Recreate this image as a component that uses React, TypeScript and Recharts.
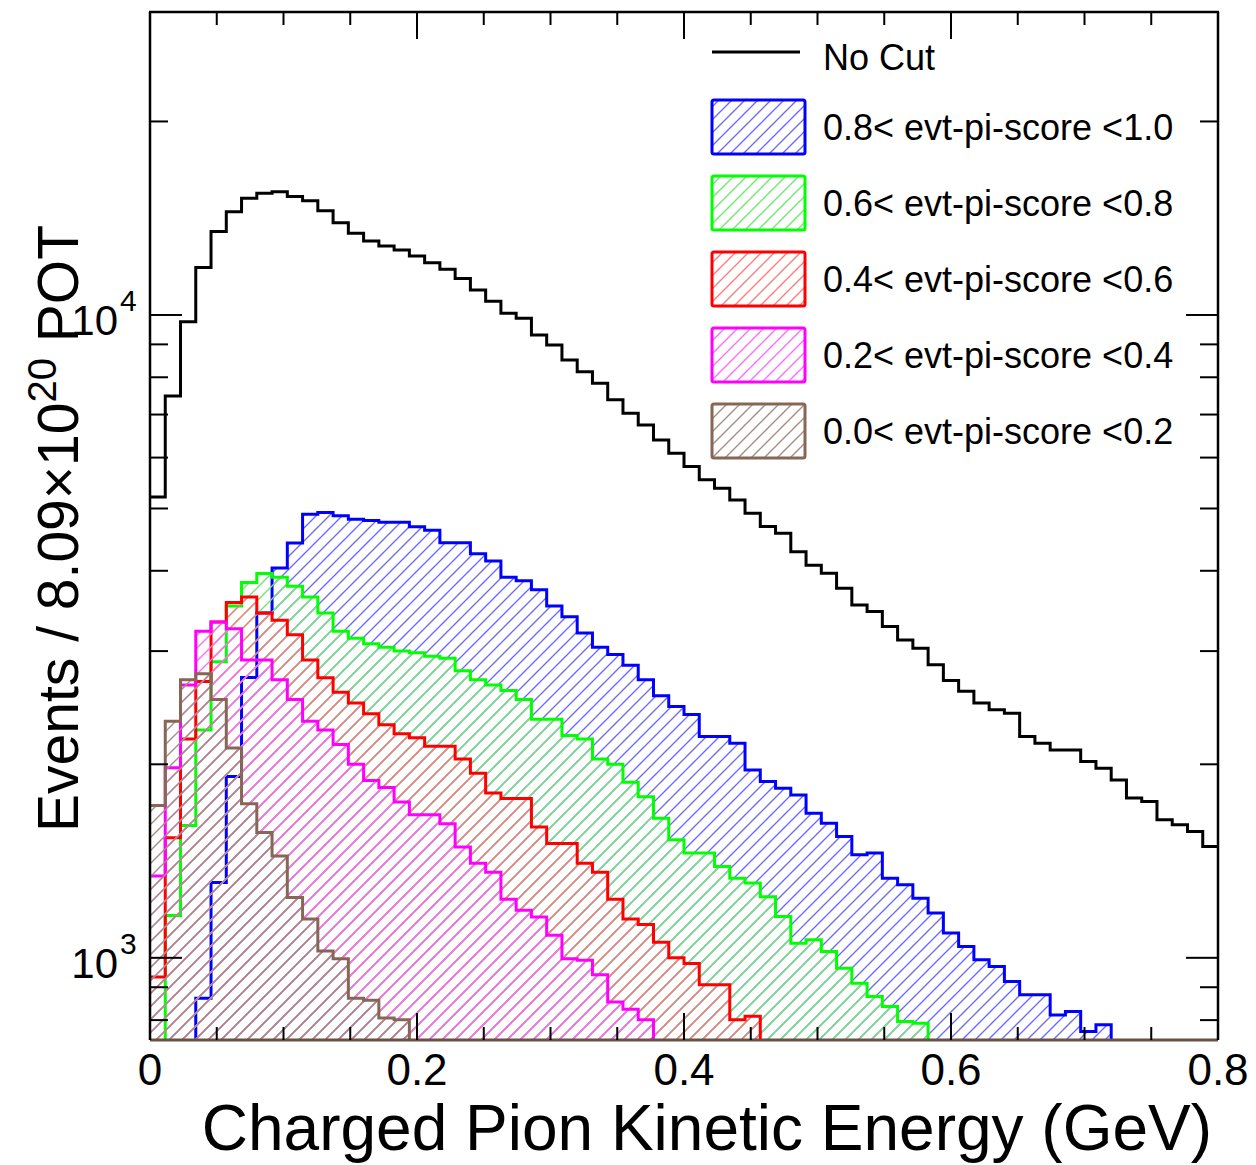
import React from "react";
import { ComposedChart, Line, Area, XAxis, YAxis } from "recharts";

// 70 bins between 0 and 0.8 GeV
const BIN_COUNT = 70;
const X_MAX = 0.8;
const Y_MIN = 745;
const Y_MAX = 29600;

const NO_CUT = [
  5210, 7480, 9760, 11850, 13480, 14470, 15190, 15470, 15550, 15280,
  15060, 14530, 13920, 13400, 13030, 12800, 12620, 12350, 12060, 11780,
  11400, 10940, 10500, 10060, 9880, 9310, 8980, 8510, 8160, 7830,
  7380, 7030, 6745, 6390, 6095, 5810, 5540, 5378, 5156, 4916,
  4687, 4575, 4283, 4080, 3966, 3758, 3540, 3456, 3276, 3123,
  3032, 2856, 2700, 2597, 2490, 2431, 2402, 2209, 2157, 2106,
  2106, 2020, 1972, 1891, 1772, 1750, 1639, 1610, 1572, 1490,
];

// bins below the axis minimum are written as 100
const SCORE_08_10 = [
  100, 100, 100, 865, 1310, 1915, 2730, 3440, 4040, 4420,
  4900, 4930, 4870, 4810, 4790, 4760, 4760, 4685, 4624, 4421,
  4421, 4253, 4144, 3910, 3860, 3737, 3527, 3394, 3202, 3041,
  2964, 2851, 2708, 2556, 2459, 2390, 2209, 2209, 2157, 1960,
  1880, 1835, 1792, 1679, 1620, 1544, 1446, 1455, 1330, 1299,
  1238, 1174, 1093, 1041, 993, 969, 919, 876, 876, 815,
  825, 768, 787, 100, 100, 100, 100, 100, 100, 100,
];

const SCORE_06_08 = [
  100, 1164, 1606, 2261, 2889, 3527, 3835, 3961, 3910, 3786,
  3643, 3438, 3222, 3141, 3080, 3041, 3002, 2983, 2944, 2925,
  2796, 2708, 2656, 2605, 2522, 2350, 2350, 2218, 2189, 2039,
  2000, 1875, 1781, 1649, 1526, 1455, 1455, 1387, 1330, 1307,
  1245, 1160, 1054, 1067, 1023, 963, 913, 871, 840, 796,
  791, 100, 100, 100, 100, 100, 100, 100, 100, 100,
  100, 100, 100, 100, 100, 100, 100, 100, 100, 100,
];

const SCORE_04_06 = [
  934, 1537, 2189, 2690, 3329, 3572, 3643, 3438, 3350, 3182,
  2907, 2726, 2588, 2490, 2396, 2304, 2232, 2200, 2134, 2134,
  2039, 1937, 1804, 1770, 1770, 1597, 1506, 1506, 1403, 1359,
  1233, 1149, 1127, 1057, 1000, 980, 908, 908, 801, 811,
  100, 100, 100, 100, 100, 100, 100, 100, 100, 100,
  100, 100, 100, 100, 100, 100, 100, 100, 100, 100,
  100, 100, 100, 100, 100, 100, 100, 100, 100, 100,
];

const SCORE_02_04 = [
  1341, 1975, 2656, 3222, 3329, 3250, 2907, 2907, 2708, 2522,
  2334, 2261, 2147, 2000, 1888, 1840, 1747, 1670, 1670, 1617,
  1487, 1403, 1359, 1233, 1186, 1157, 1084, 997, 991, 941,
  854, 832, 801, 100, 100, 100, 100, 100, 100, 100,
  100, 100, 100, 100, 100, 100, 100, 100, 100, 100,
  100, 100, 100, 100, 100, 100, 100, 100, 100, 100,
  100, 100, 100, 100, 100, 100, 100, 100, 100, 100,
];

const SCORE_00_02 = [
  1725, 2334, 2708, 2765, 2522, 2121, 1736, 1566, 1440, 1241,
  1149, 1025, 997, 865, 859, 806, 801, 100, 100, 100,
  100, 100, 100, 100, 100, 100, 100, 100, 100, 100,
  100, 100, 100, 100, 100, 100, 100, 100, 100, 100,
  100, 100, 100, 100, 100, 100, 100, 100, 100, 100,
  100, 100, 100, 100, 100, 100, 100, 100, 100, 100,
  100, 100, 100, 100, 100, 100, 100, 100, 100, 100,
];

const X_TICKS = [0, 0.05, 0.1, 0.15, 0.2, 0.25, 0.3, 0.35, 0.4, 0.45, 0.5, 0.55, 0.6, 0.65, 0.7, 0.75, 0.8];
const Y_TICKS = [800, 900, 1000, 2000, 3000, 4000, 5000, 6000, 7000, 8000, 9000, 10000, 20000];
const Y_LABELS = [1000, 10000];

const SERIES = [
  { key: "s08", name: "0.8< evt-pi-score <1.0", color: "#0000ff", hatch: "#6b6bff", values: SCORE_08_10 },
  { key: "s06", name: "0.6< evt-pi-score <0.8", color: "#00ff00", hatch: "#6fe86f", values: SCORE_06_08 },
  { key: "s04", name: "0.4< evt-pi-score <0.6", color: "#ff0000", hatch: "#ff7b7b", values: SCORE_04_06 },
  { key: "s02", name: "0.2< evt-pi-score <0.4", color: "#ff00ff", hatch: "#ff6bff", values: SCORE_02_04 },
  { key: "s00", name: "0.0< evt-pi-score <0.2", color: "#876656", hatch: "#a48e84", values: SCORE_00_02 },
];

const W = 1256;
const H = 1165;
const PLOT_LEFT = 150;
const PLOT_RIGHT = 1218;
const PLOT_TOP = 12;
const PLOT_BOTTOM = 1040;
const FONT = "'Liberation Sans', Arial, Helvetica, sans-serif";

// step histogram: one point per bin edge, last edge repeats last bin
const rows = Array.from({ length: BIN_COUNT + 1 }, (_, i) => {
  const j = Math.min(i, BIN_COUNT - 1);
  const row: Record<string, number> = { x: (i * X_MAX) / BIN_COUNT, noCut: NO_CUT[j] };
  SERIES.forEach((s) => {
    row[s.key] = s.values[j];
  });
  return row;
});

const isMajorX = (v: number) => Math.abs(v * 5 - Math.round(v * 5)) < 1e-6;

const HATCH = 13;
function hatch(id: string, color: string) {
  const p = HATCH;
  return (
    <pattern key={id} id={id} patternUnits="userSpaceOnUse" width={p} height={p}>
      <path
        d={`M-2,2 L2,-2 M0,${p} L${p},0 M${p - 2},${p + 2} L${p + 2},${p - 2}`}
        stroke={color}
        strokeWidth={1.4}
      />
    </pattern>
  );
}

// bottom ticks also mirror onto the top frame
const BottomTick = (props: any) => {
  const { x, payload } = props;
  const v = payload.value;
  const major = isMajorX(v);
  const len = major ? 27 : 13;
  return (
    <g>
      <line x1={x} x2={x} y1={PLOT_BOTTOM} y2={PLOT_BOTTOM - len} stroke="#000" strokeWidth={2} />
      <line x1={x} x2={x} y1={PLOT_TOP} y2={PLOT_TOP + len} stroke="#000" strokeWidth={2} />
      {major && (
        <text x={x} y={PLOT_BOTTOM + 45} textAnchor="middle" fontSize={44} fontFamily={FONT} fill="#000">
          {v === 0 ? "0" : v.toFixed(1)}
        </text>
      )}
    </g>
  );
};

const LeftTick = (props: any) => {
  const { y, payload } = props;
  const v = payload.value;
  const major = Y_LABELS.includes(v);
  return (
    <g>
      <line x1={PLOT_LEFT} x2={PLOT_LEFT + (major ? 32 : 18)} y1={y} y2={y} stroke="#000" strokeWidth={2} />
      {major && (
        <text fontFamily={FONT} fill="#000">
          <tspan x={118} y={y + 20} textAnchor="end" fontSize={42}>10</tspan>
          <tspan x={120} y={y - 4} textAnchor="start" fontSize={30}>{Math.round(Math.log10(v))}</tspan>
        </text>
      )}
    </g>
  );
};

const RightTick = (props: any) => {
  const { y, payload } = props;
  const major = Y_LABELS.includes(payload.value);
  return <line x1={PLOT_RIGHT} x2={PLOT_RIGHT - (major ? 32 : 18)} y1={y} y2={y} stroke="#000" strokeWidth={2} />;
};

const LEGEND_X = 712;
const LEGEND_BOX_W = 93;
const LEGEND_BOX_H = 54;
const LEGEND_TEXT_X = 823;
const LEGEND_ROW_Y = [127, 203, 279, 355, 431];

function Overlay() {
  return (
    <svg width={W} height={H} style={{ position: "absolute", left: 0, top: 0, pointerEvents: "none" }}>
      <defs>{SERIES.map((s) => hatch(`lg-${s.key}`, s.hatch))}</defs>
      <line x1={PLOT_LEFT - 1} x2={PLOT_RIGHT + 1} y1={PLOT_TOP} y2={PLOT_TOP} stroke="#000" strokeWidth={2.5} />
      <line x1={LEGEND_X} x2={800} y1={52} y2={52} stroke="#000" strokeWidth={3} />
      <text x={LEGEND_TEXT_X} y={70} fontSize={36} fontFamily={FONT} fill="#000">No Cut</text>
      {SERIES.map((s, i) => (
        <g key={s.key}>
          <rect
            x={LEGEND_X}
            y={LEGEND_ROW_Y[i] - LEGEND_BOX_H / 2}
            width={LEGEND_BOX_W}
            height={LEGEND_BOX_H}
            fill={`url(#lg-${s.key})`}
            stroke={s.color}
            strokeWidth={3}
            rx={2}
          />
          <text x={LEGEND_TEXT_X} y={LEGEND_ROW_Y[i] + 13} fontSize={36} fontFamily={FONT} fill="#000">
            {s.name}
          </text>
        </g>
      ))}
      <text x={1212} y={1150} textAnchor="end" fontSize={64} fontFamily={FONT} fill="#000">
        Charged Pion Kinetic Energy (GeV)
      </text>
      <text transform="translate(78,225) rotate(-90)" textAnchor="end" fontSize={57} fontFamily={FONT} fill="#000">
        Events / 8.09×10
        <tspan dy={-22} fontSize={40}>20</tspan>
        <tspan dy={22}> POT</tspan>
      </text>
    </svg>
  );
}

export default function App() {
  return (
    <div style={{ position: "absolute", left: 0, top: 0, width: W, height: H, background: "#fff" }}>
      <ComposedChart width={W} height={H} data={rows} margin={{ top: PLOT_TOP, right: 0, bottom: 0, left: 0 }}>
        <defs>{SERIES.map((s) => hatch(`h-${s.key}`, s.hatch))}</defs>
        <XAxis
          xAxisId="b"
          dataKey="x"
          type="number"
          domain={[0, X_MAX]}
          ticks={X_TICKS}
          interval={0}
          allowDataOverflow
          height={H - PLOT_BOTTOM}
          tickLine={false}
          axisLine={{ stroke: "#6b5045", strokeWidth: 3 }}
          tick={BottomTick}
        />
        <YAxis
          yAxisId="l"
          type="number"
          scale="log"
          domain={[Y_MIN, Y_MAX]}
          ticks={Y_TICKS}
          interval={0}
          allowDataOverflow
          width={PLOT_LEFT}
          tickLine={false}
          axisLine={{ stroke: "#000", strokeWidth: 2.5 }}
          tick={LeftTick}
        />
        <YAxis
          yAxisId="r"
          orientation="right"
          type="number"
          scale="log"
          domain={[Y_MIN, Y_MAX]}
          ticks={Y_TICKS}
          interval={0}
          allowDataOverflow
          width={W - PLOT_RIGHT}
          tickLine={false}
          axisLine={{ stroke: "#000", strokeWidth: 2.5 }}
          tick={RightTick}
        />
        <Line
          xAxisId="b"
          yAxisId="l"
          type="stepAfter"
          dataKey="noCut"
          stroke="#000"
          strokeWidth={3}
          dot={false}
          activeDot={false}
          isAnimationActive={false}
        />
        {SERIES.map((s) => (
          <Area
            key={s.key}
            xAxisId="b"
            yAxisId="l"
            type="stepAfter"
            dataKey={s.key}
            baseValue={Y_MIN}
            stroke={s.color}
            strokeWidth={3}
            fill={`url(#h-${s.key})`}
            fillOpacity={1}
            dot={false}
            activeDot={false}
            isAnimationActive={false}
          />
        ))}
      </ComposedChart>
      <Overlay />
    </div>
  );
}
